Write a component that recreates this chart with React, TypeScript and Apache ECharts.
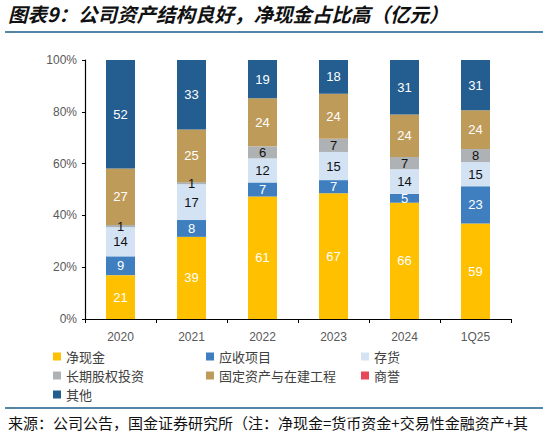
import React, { useEffect, useRef } from "react";
import * as echarts from "echarts";

const categories = ["2020", "2021", "2022", "2023", "2024", "1Q25"];
const seriesNames = ["净现金", "应收项目", "存货", "长期股权投资", "固定资产与在建工程", "商誉", "其他"];
const netCash = [21, 39, 61, 67, 66, 59];
const receivables = [9, 8, 7, 7, 5, 23];
const inventory = [14, 17, 12, 15, 14, 15];
const equityInvest = [1, 1, 6, 7, 7, 8];
const fixedAssets = [27, 25, 24, 24, 24, 24];
const goodwill = [0, 0, 0, 0, 0, 0];
const others = [52, 33, 19, 18, 31, 31];
const yTicks = ["0%", "20%", "40%", "60%", "80%", "100%"];

const colors = ["#FFC000", "#3F7FBF", "#D3E3F3", "#AEB2B5", "#BF9B5A", "#E8475A", "#245D8F"];
const labelColors = ["#fff", "#fff", "#111", "#111", "#fff", "#fff", "#fff"];
// legend grid: 3 columns, row-major order
const legendCols = [53, 206, 361];
const legendRows = [349, 368, 387];

export default function App() {
  const ref = useRef<HTMLDivElement>(null);
  useEffect(() => {
    document.body.style.margin = "0";
    const chart = echarts.init(ref.current!, null, { renderer: "svg" });
    const raw = [netCash, receivables, inventory, equityInvest, fixedAssets, goodwill, others];
    const totals = categories.map((_, i) => raw.reduce((s, arr) => s + arr[i], 0));
    const cjk = "'Noto Sans CJK SC', sans-serif";
    const latin = "'Liberation Sans', Arial, sans-serif";
    const series = raw.map((arr, k) => ({
      name: seriesNames[k],
      type: "bar",
      stack: "total",
      barWidth: 29,
      itemStyle: { color: colors[k] },
      label: {
        show: true,
        position: "inside",
        color: labelColors[k],
        fontSize: 13,
        fontFamily: latin,
        formatter: (p: any) => (arr[p.dataIndex] > 0 ? String(arr[p.dataIndex]) : ""),
      },
      data: arr.map((v, i) => (v / totals[i]) * 100),
    }));
    const legends = seriesNames.map((name, k) => ({
      left: legendCols[k % 3],
      top: legendRows[Math.floor(k / 3)],
      padding: 0,
      itemWidth: 8,
      itemHeight: 8,
      itemGap: 4,
      icon: "rect",
      textStyle: { fontFamily: cjk, fontSize: 13, lineHeight: 15, color: "#404040" },
      data: [name],
    }));
    chart.setOption({
      animation: false,
      color: colors,
      grid: { left: 85, right: 36, top: 60, bottom: 117 },
      xAxis: {
        type: "category",
        data: categories,
        axisLine: { lineStyle: { color: "#000", width: 1.2 } },
        axisTick: { show: true, length: 4, lineStyle: { color: "#000" } },
        axisLabel: { color: "#595959", fontSize: 12, fontFamily: latin, margin: 12 },
      },
      yAxis: {
        type: "value",
        min: 0,
        max: 100,
        interval: 20,
        axisLine: { show: true, lineStyle: { color: "#000", width: 1.2 } },
        axisTick: { show: true, length: 3, lineStyle: { color: "#000" } },
        splitLine: { show: false },
        axisLabel: {
          color: "#595959",
          fontSize: 12,
          fontFamily: latin,
          margin: 8,
          formatter: (v: number) => yTicks[Math.round(v / 20)],
        },
      },
      legend: legends,
      graphic: [
        {
          type: "text",
          left: 8,
          top: 4,
          style: {
            text: "图表9：公司资产结构良好，净现金占比高（亿元）",
            font: `italic bold 19.5px ${cjk}`,
            fill: "#111",
          },
        },
        {
          type: "line",
          shape: { x1: 5, y1: 32, x2: 543, y2: 32 },
          style: { stroke: "#1F5C8A", lineWidth: 1.5 },
        },
        {
          type: "line",
          shape: { x1: 5, y1: 408, x2: 543, y2: 408 },
          style: { stroke: "#1F5C8A", lineWidth: 1.5 },
        },
        {
          type: "text",
          left: 8,
          top: 415,
          style: {
            text: "来源：公司公告，国金证券研究所（注：净现金=货币资金+交易性金融资产+其",
            font: `15px ${cjk}`,
            fill: "#111",
          },
        },
      ],
      series,
    });
    return () => chart.dispose();
  }, []);
  return <div ref={ref} style={{ width: 547, height: 436 }} />;
}
